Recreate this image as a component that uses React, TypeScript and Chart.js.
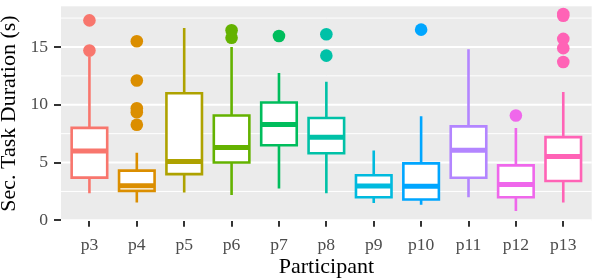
import React, { useEffect, useRef } from "react";
import { Chart, registerables } from "chart.js";

Chart.register(...registerables);

const categories = ["p3", "p4", "p5", "p6", "p7", "p8", "p9", "p10", "p11", "p12", "p13"];
const whiskerLow = [2.35, 1.55, 2.4, 2.2, 2.75, 2.35, 1.5, 1.35, 2.0, 0.8, 1.55];
const q1 = [3.7, 2.55, 4.0, 5.0, 6.5, 5.8, 2.0, 1.8, 3.68, 2.0, 3.4];
const median = [6.0, 3.0, 5.1, 6.3, 8.3, 7.2, 2.97, 2.95, 6.06, 3.1, 5.52];
const q3 = [8.0, 4.3, 11.0, 9.07, 10.2, 8.85, 3.9, 4.93, 8.13, 4.76, 7.2];
const whiskerHigh = [14.2, 5.85, 16.65, 15.0, 12.75, 12.0, 6.05, 9.0, 14.8, 8.0, 11.1];
const outliers: number[][] = [
  [17.3, 14.7],
  [15.5, 12.1, 9.7, 9.35, 8.27],
  [],
  [16.45, 15.8],
  [15.95],
  [16.1, 14.25],
  [],
  [16.5],
  [],
  [9.07],
  [17.85, 17.7, 15.7, 14.9, 13.7],
];
const yTicks = [0, 5, 10, 15];
const yMinorGrid = [2.5, 7.5, 12.5, 17.5];

const colors = [
  "#F8766D", "#DB8E00", "#AEA200", "#64B200", "#00BD5C", "#00C1A7",
  "#00BADE", "#00A6FF", "#B385FF", "#EF67EB", "#FF63B6",
];

const FONT = "'Liberation Serif', 'Times New Roman', serif";

const boxPlugin = {
  id: "boxPlugin",
  beforeDraw(chart: any) {
    const { ctx, chartArea } = chart;
    const y = chart.scales.y;
    ctx.save();
    ctx.fillStyle = "#EBEBEB";
    ctx.fillRect(chartArea.left, chartArea.top, chartArea.right - chartArea.left, chartArea.bottom - chartArea.top);
    ctx.strokeStyle = "#FFFFFF";
    ctx.lineWidth = 1;
    for (const v of yMinorGrid) {
      const py = y.getPixelForValue(v);
      ctx.beginPath();
      ctx.moveTo(chartArea.left, py);
      ctx.lineTo(chartArea.right, py);
      ctx.stroke();
    }
    ctx.lineWidth = 2;
    for (const v of yTicks) {
      const py = y.getPixelForValue(v);
      ctx.beginPath();
      ctx.moveTo(chartArea.left, py);
      ctx.lineTo(chartArea.right, py);
      ctx.stroke();
    }
    ctx.restore();
  },
  afterDatasetsDraw(chart: any) {
    const { ctx } = chart;
    const y = chart.scales.y;
    const meta = chart.getDatasetMeta(0);
    ctx.save();
    meta.data.forEach((bar: any, i: number) => {
      const { x, width } = bar.getProps(["x", "width"], true);
      const l = x - width / 2;
      const r = x + width / 2;
      const yq1 = y.getPixelForValue(q1[i]);
      const yq3 = y.getPixelForValue(q3[i]);
      const ylo = y.getPixelForValue(whiskerLow[i]);
      const yhi = y.getPixelForValue(whiskerHigh[i]);
      const ym = y.getPixelForValue(median[i]);
      ctx.strokeStyle = colors[i];
      ctx.lineWidth = 2.6;
      ctx.lineCap = "butt";
      ctx.lineJoin = "miter";
      ctx.beginPath();
      ctx.moveTo(x, yhi);
      ctx.lineTo(x, yq3);
      ctx.moveTo(x, yq1);
      ctx.lineTo(x, ylo);
      ctx.stroke();
      ctx.beginPath();
      ctx.rect(l, yq3, r - l, yq1 - yq3);
      ctx.stroke();
      ctx.lineWidth = 5;
      ctx.beginPath();
      ctx.moveTo(l, ym);
      ctx.lineTo(r, ym);
      ctx.stroke();
    });
    ctx.restore();
  },
};

export default function App() {
  const ref = useRef<HTMLCanvasElement | null>(null);

  useEffect(() => {
    if (!ref.current) return;
    const boxData = categories.map((_, i) => ({ x: i, y: [q1[i], q3[i]] }));
    const outlierData: { x: number; y: number }[] = [];
    const outlierColors: string[] = [];
    outliers.forEach((vals, i) => {
      vals.forEach((v) => {
        outlierData.push({ x: i, y: v });
        outlierColors.push(colors[i]);
      });
    });

    const chart = new Chart(ref.current, {
      type: "bar",
      data: {
        datasets: [
          {
            type: "bar",
            data: boxData as any,
            backgroundColor: "#FFFFFF",
            borderWidth: 0,
            barPercentage: 0.75,
            categoryPercentage: 1,
            grouped: false,
            order: 2,
          } as any,
          {
            type: "scatter",
            data: outlierData,
            pointRadius: 6.3,
            pointBorderWidth: 0,
            pointBackgroundColor: outlierColors,
            pointBorderColor: outlierColors,
            order: 1,
          } as any,
        ],
      },
      plugins: [boxPlugin],
      options: {
        responsive: false,
        animation: false,
        devicePixelRatio: 1,
        layout: { padding: { top: 2, left: 0, right: 0, bottom: 0 } },
        plugins: { legend: { display: false }, tooltip: { enabled: false } },
        scales: {
          x: {
            type: "linear",
            min: -0.6,
            max: 10.6,
            offset: false,
            afterBuildTicks: (s: any) => {
              s.ticks = categories.map((_, i) => ({ value: i }));
            },
            afterFit: (s: any) => {
              s.height = 59.2;
              s.paddingLeft = 0;
              s.paddingRight = 0;
              s.paddingTop = 0;
              s.paddingBottom = 0;
            },
            ticks: {
              callback: (v: any) => categories[v] ?? "",
              autoSkip: false,
              maxRotation: 0,
              padding: 8,
              color: "#4D4D4D",
              font: { family: FONT, size: 17.6 },
            },
            grid: {
              offset: false,
              drawOnChartArea: false,
              drawTicks: true,
              tickLength: 6,
              color: "#333333",
              lineWidth: 2,
            },
            border: { display: false },
            title: {
              display: true,
              text: "Participant",
              color: "#000000",
              font: { family: FONT, size: 22 },
              padding: { top: 0, bottom: 0 },
            },
          },
          y: {
            type: "linear",
            min: -0.04,
            max: 18.52,
            afterBuildTicks: (s: any) => {
              s.ticks = yTicks.map((v) => ({ value: v }));
            },
            afterFit: (s: any) => {
              s.width = 61;
              s.paddingLeft = 0;
              s.paddingRight = 0;
              s.paddingTop = 0;
              s.paddingBottom = 0;
            },
            ticks: {
              padding: 6,
              color: "#4D4D4D",
              font: { family: FONT, size: 17.6 },
            },
            grid: {
              drawOnChartArea: false,
              drawTicks: true,
              tickLength: 7,
              color: "#333333",
              lineWidth: 2,
            },
            border: { display: false },
            title: {
              display: true,
              text: "Sec. Task Duration (s)",
              color: "#000000",
              font: { family: FONT, size: 22, lineHeight: 0.86 },
              padding: { top: 0, bottom: 0 },
            },
          },
        },
      } as any,
    });
    return () => chart.destroy();
  }, []);

  return (
    <div style={{ position: "fixed", left: 0, top: 0, width: 598, height: 280, background: "#FFFFFF" }}>
      <canvas ref={ref} width={598} height={280} style={{ width: 598, height: 280 }} />
    </div>
  );
}
